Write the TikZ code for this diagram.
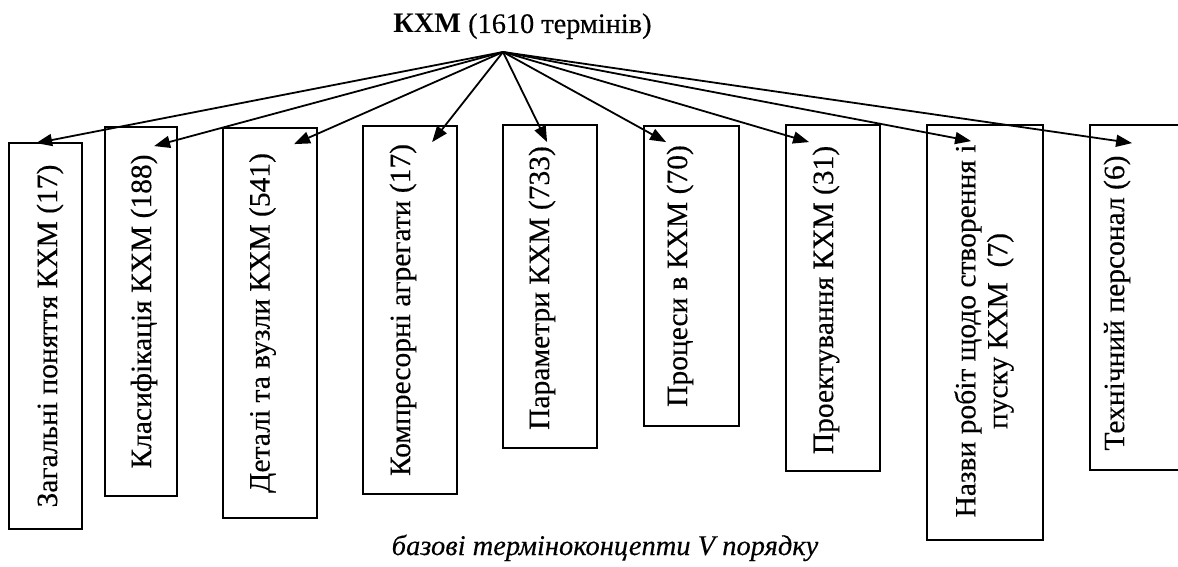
\documentclass[tikz,border=0pt]{standalone}
\usepackage{fontspec}
\setmainfont{Liberation Serif}
\usetikzlibrary{arrows.meta,calc}
\begin{document}
\begin{tikzpicture}[x=1pt,y=-1pt,
  box/.style={draw, line width=1.8pt, inner sep=0pt},
  lbl/.style={rotate=90, font=\fontsize{29.5}{32}\selectfont\addfontfeature{FakeBold=0.3}, inner sep=0pt, align=center},
  conn/.style={line width=1.8pt, -{Triangle[length=16pt,width=12pt]}}]
\useasboundingbox (0,0) rectangle (1178,567);
\clip (0,0) rectangle (1178,567);
% title
\node[font=\fontsize{28.3}{32}\selectfont, anchor=base, inner sep=0pt] (root) at (522.5,33) {\textbf{КХМ} {\addfontfeature{FakeBold=0.3}(1610 термінів)}};
\coordinate (apex) at (503,52);
% boxes
\node[box, minimum width=73pt, minimum height=386pt] (b1) at (45.5,336) {};
\node[box, minimum width=72pt, minimum height=369pt] (b2) at (141,311.5) {};
\node[box, minimum width=94pt, minimum height=390pt] (b3) at (270,323) {};
\node[box, minimum width=94pt, minimum height=368pt] (b4) at (410,310) {};
\node[box, minimum width=94pt, minimum height=323pt] (b5) at (550,286.5) {};
\node[box, minimum width=95pt, minimum height=300pt] (b6) at (691.5,276) {};
\node[box, minimum width=94pt, minimum height=346pt] (b7) at (833,298) {};
\node[box, minimum width=116pt, minimum height=415pt] (b8) at (985,332.5) {};
\node[box, minimum width=110pt, minimum height=345pt] (b9) at (1145,297.5) {};
% labels
\node[lbl] (t1) at (50,336) {Загальні поняття КХМ (17)};
\node[lbl] (t2) at (144,311.5) {Класифікація КХМ (188)};
\node[lbl] (t3) at (262.5,323) {Деталі та вузли КХМ (541)};
\node[lbl] (t4) at (403,310) {Компресорні агрегати (17)};
\node[lbl] (t5) at (542,288) {Параметри КХМ (733)};
\node[lbl] (t6) at (680,276) {Процеси в КХМ (70)};
\node[lbl] (t7) at (826,300) {Проектування КХМ (31)};
\node[lbl] (t8) at (984,331) {Назви робіт щодо створення і\\пуску КХМ~~(7)};
\node[lbl] (t9) at (1117,303) {Технічний персонал (6)};
% connectors
\draw[conn] (apex) -- ($(b1.north west)+(28,1)$);
\draw[conn] (apex) -- ($(b2.north west)+(50,20)$);
\draw[conn] (apex) -- ($(b3.north west)+(72,17)$);
\draw[conn] (apex) -- ($(b4.north west)+(70,17)$);
\draw[conn] (apex) -- ($(b5.north west)+(45,18)$);
\draw[conn] (apex) -- ($(b6.north west)+(23,17)$);
\draw[conn] (apex) -- ($(b7.north west)+(24,18)$);
\draw[conn] (apex) -- ($(b8.north west)+(45,17)$);
\draw[conn] (apex) -- ($(b9.north west)+(43,19)$);
% caption
\node[font=\fontsize{28.5}{32}\selectfont\itshape\addfontfeature{FakeBold=0.3}, anchor=base, inner sep=0pt] (cap) at (605,555) {базові терміноконцепти V порядку};
\end{tikzpicture}
\end{document}
